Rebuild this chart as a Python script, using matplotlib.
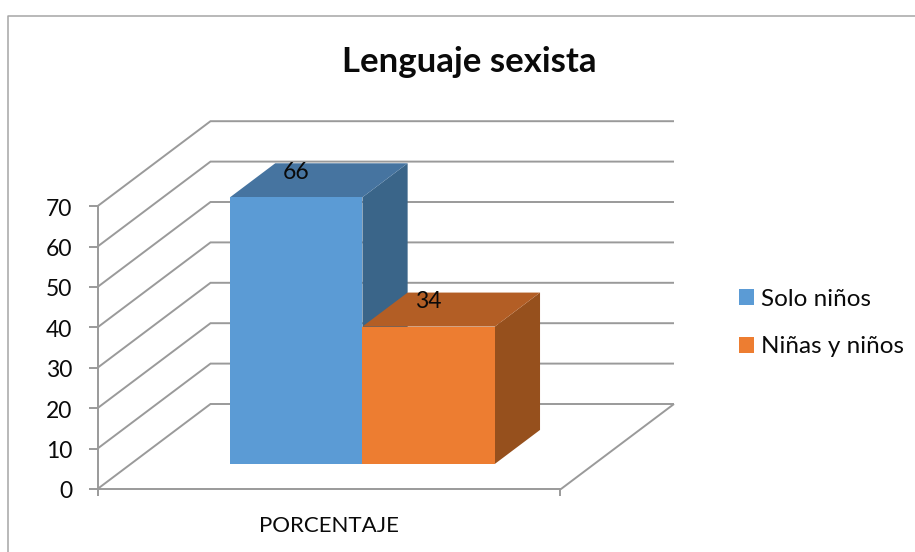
#!/usr/bin/env python3
"""Lenguaje sexista: Excel style 3D column chart, drawn on a flat pixel axes."""

import matplotlib

matplotlib.use("Agg")
import matplotlib.pyplot as plt
from matplotlib.patches import Patch, Polygon

plt.rcParams["font.family"] = ["Lato", "DejaVu Sans"]

title = "Lenguaje sexista"
category = "PORCENTAJE"
series = ["Solo niños", "Niñas y niños"]
values = [66, 34]
y_ticks = [0, 10, 20, 30, 40, 50, 60, 70]

front_colors = ["#5B9BD5", "#ED7D31"]
top_colors = ["#4674A0", "#B35E25"]
side_colors = ["#3A6589", "#96501D"]
grid_color = "#9A9A9A"

# oblique projection of the box
X0, X1 = 97.5, 561
Y0 = 489
PX_PER_UNIT = 4.04
DEPTH_X, DEPTH_Y = 113, 85
BAR_NEAR, BAR_FAR = 0.295, 0.695
BAR_LEFT, BAR_W = 196.7, 132.4


def project(x, v, d=0.0):
    return x + d * DEPTH_X, Y0 - v * PX_PER_UNIT - d * DEPTH_Y


fig = plt.figure(figsize=(9.15, 5.52), dpi=100)
ax = fig.add_axes([0, 0, 1, 1])
ax.set_xlim(0, 915)
ax.set_ylim(552, 0)
ax.axis("off")

line = dict(color=grid_color, lw=1.4, solid_capstyle="butt", solid_joinstyle="miter")

# outer frame of the chart
ax.plot([7.5, 7.5, 915], [552, 15.5, 15.5], color="#A6A6A6", lw=1.1)

# walls and gridlines
for t in y_ticks:
    xs, ys = zip(project(X0, t), project(X0, t, 1), project(X1, t, 1))
    ax.plot(xs, ys, **line)
    ax.plot([X0 - 9, X0], [ys[0], ys[0]], **line)
    ax.text(72, ys[0] + 3, str(t), ha="right", va="center", fontsize=16.5, color="#0A0A0A")

# floor edges and axis lines
xs, ys = zip(project(X1, 0, 1), project(X1, 0), project(X0, 0))
ax.plot(xs, ys, **line)
ax.plot([X0, X0], [project(X0, 0)[1], project(X0, y_ticks[-1])[1]], **line)
for x in (X0, X1 - 1):
    ax.plot([x, x], [Y0, Y0 + 7], **line)

# bars, each one a front, top and side face
for i, v in enumerate(values):
    left = BAR_LEFT + i * BAR_W
    right = left + BAR_W
    front = [project(left, 0, BAR_NEAR), project(right, 0, BAR_NEAR),
             project(right, v, BAR_NEAR), project(left, v, BAR_NEAR)]
    top = [project(left, v, BAR_NEAR), project(right, v, BAR_NEAR),
           project(right, v, BAR_FAR), project(left, v, BAR_FAR)]
    side = [project(right, 0, BAR_NEAR), project(right, 0, BAR_FAR),
            project(right, v, BAR_FAR), project(right, v, BAR_NEAR)]
    ax.add_patch(Polygon(side, fc=side_colors[i], ec="none", zorder=3 + i))
    ax.add_patch(Polygon(top, fc=top_colors[i], ec="none", zorder=3 + i))
    ax.add_patch(Polygon(front, fc=front_colors[i], ec="none", zorder=3 + i))
    lx = project(left + BAR_W / 2, v, BAR_NEAR)[0]
    ly = project(left, v, BAR_FAR)[1]
    ax.text(lx, ly + 9, str(v), ha="center", va="center", fontsize=16.5,
            color="#0A0A0A", zorder=6)

ax.text(469.5, 62, title, ha="center", va="center", fontsize=25, fontweight="bold",
        color="#0A0A0A")
ax.text(328.5, 526.5, category, ha="center", va="center", fontsize=16, color="#0A0A0A")

handles = [Patch(fc=c, ec="none") for c in front_colors]
ax.legend(handles, series, loc="upper left", bbox_to_anchor=(739, 288.5),
          bbox_transform=ax.transData, frameon=False, fontsize=17.5,
          handlelength=0.62, handleheight=0.62, handletextpad=0.29,
          labelspacing=1.11, borderpad=0, borderaxespad=0, labelcolor="#0A0A0A")

fig.savefig("out.png", dpi=100)
